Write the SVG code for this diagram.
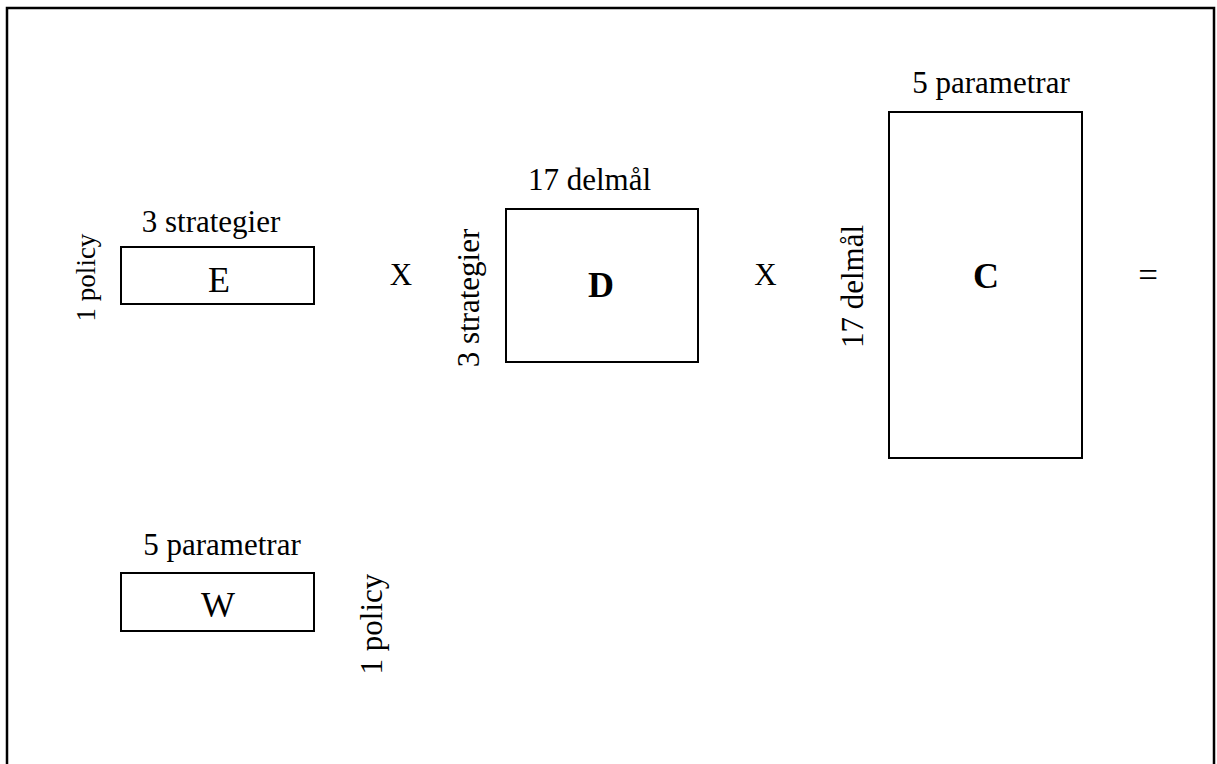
<svg xmlns="http://www.w3.org/2000/svg" width="1217" height="764" viewBox="0 0 1217 764">
<style>
text{font-family:"Liberation Serif","Times New Roman",serif;fill:#000}
.lbl{font-size:31px;text-anchor:middle}
.big{font-size:36px;text-anchor:middle}
.bold{font-weight:bold}
.box{fill:#fff;stroke:#000;stroke-width:2}
</style>
<rect x="0" y="0" width="1217" height="764" fill="#fff"/>
<path d="M7 775 V8 H1214 V775" fill="none" stroke="#000" stroke-width="2.5"/>
<g id="E">
<rect class="box" x="121" y="247" width="193" height="57"/>
<text class="big" x="219" y="292">E</text>
<text class="lbl" x="211" y="232">3 strategier</text>
<text class="lbl" style="font-size:27px" transform="translate(95,277.5) rotate(-90)">1 policy</text>
</g>
<g id="D">
<rect class="box" x="506" y="209" width="192" height="153"/>
<text class="big bold" x="601" y="297">D</text>
<text class="lbl" x="589.5" y="190">17 delmål</text>
<text class="lbl" transform="translate(479,298) rotate(-90)">3 strategier</text>
</g>
<g id="C">
<rect class="box" x="889" y="112" width="193" height="346"/>
<text class="big bold" x="986" y="288">C</text>
<text class="lbl" x="991" y="93">5 parametrar</text>
<text class="lbl" transform="translate(863,286.5) rotate(-90)">17 delmål</text>
</g>
<g id="W">
<rect class="box" x="121" y="573" width="193" height="58"/>
<text class="big" x="218" y="617">W</text>
<text class="lbl" x="222" y="555">5 parametrar</text>
<text class="lbl" transform="translate(382,624) rotate(-90)">1 policy</text>
</g>
<g id="connectors">
<text class="lbl" x="401" y="285">X</text>
<text class="lbl" x="765.5" y="285">X</text>
<text class="lbl" style="font-size:35px" x="1148" y="287">=</text>
</g>
</svg>
